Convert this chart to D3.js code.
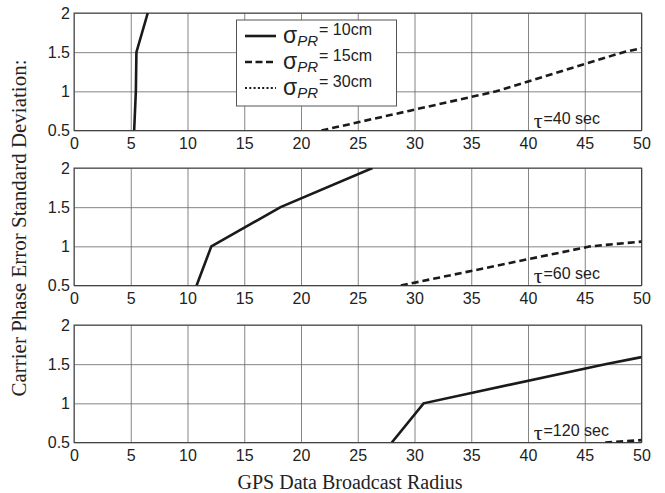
<!DOCTYPE html>
<html>
<head>
<meta charset="utf-8">
<title>Carrier phase error vs broadcast radius</title>
<script src="https://d3js.org/d3.v7.min.js"></script>
<style>
  body { margin: 0; background: #fff; }
  svg text { font-family: "Liberation Sans", Arial, sans-serif; }
  .serif { font-family: "Liberation Serif", "Times New Roman", serif; }
</style>
</head>
<body>
<div id="chart"></div>
<script>
// values
var xTicks = [0, 5, 10, 15, 20, 25, 30, 35, 40, 45, 50];
var yTicks = [0.5, 1, 1.5, 2];
var tauLabels = ["=40 sec", "=60 sec", "=120 sec"];
var legendLabels = ["= 10cm", "= 15cm", "= 30cm"];

// sigma_PR = 10cm (solid)
var sigma10 = [
  [[5.3, 0.5], [5.45, 1.0], [5.5, 1.5], [6.5, 2.0]],
  [[10.8, 0.5], [12.1, 1.0], [18.2, 1.5], [26.3, 2.0]],
  [[28.0, 0.5], [30.8, 1.0], [46.8, 1.5], [50, 1.59]]
];
// sigma_PR = 15cm (dashed)
var sigma15 = [
  [[21.8, 0.5], [29.5, 0.75], [37.2, 1.0], [48.4, 1.5], [50, 1.55]],
  [[28.8, 0.5], [45.5, 1.0], [50, 1.06]],
  [[46.8, 0.5], [50, 0.53]]
];
// sigma_PR = 30cm (dotted) - off scale in all panels
var sigma30 = [[], [], []];

var W = 665, H = 493;
var left = 74, right = 641.5;
var panelTops = [13, 168, 325];
var panelH = 117.5;

var svg = d3.select("#chart").append("svg")
  .attr("width", W)
  .attr("height", H);

var x = d3.scaleLinear().domain([0, 50]).range([left, right]);

var line = d3.line()
  .x(function(d) { return x(d[0]); });

var dashes = ["none", "7,4", "2,3"];

panelTops.forEach(function(top, i) {
  var y = d3.scaleLinear().domain([0.5, 2]).range([top + panelH, top]);
  line.y(function(d) { return y(d[1]); });

  var g = svg.append("g");

  // clip so lines stop at the frame
  svg.append("clipPath").attr("id", "clip" + i)
    .append("rect")
    .attr("x", left).attr("y", top)
    .attr("width", right - left).attr("height", panelH);

  // grid
  g.append("g")
    .attr("transform", "translate(0," + (top + panelH) + ")")
    .call(d3.axisBottom(x).tickValues(xTicks).tickSize(-panelH).tickFormat(""))
    .call(function(a) {
      a.select(".domain").remove();
      a.selectAll("line").attr("stroke", "#666").attr("stroke-width", 0.8);
    });
  g.append("g")
    .attr("transform", "translate(" + left + ",0)")
    .call(d3.axisLeft(y).tickValues(yTicks).tickSize(-(right - left)).tickFormat(""))
    .call(function(a) {
      a.select(".domain").remove();
      a.selectAll("line").attr("stroke", "#666").attr("stroke-width", 0.8);
    });

  // tick labels
  g.append("g")
    .attr("transform", "translate(0," + (top + panelH) + ")")
    .call(d3.axisBottom(x).tickValues(xTicks).tickSize(0).tickPadding(7))
    .call(function(a) {
      a.select(".domain").remove();
      a.selectAll("text").attr("font-size", 16).attr("fill", "#222")
        .attr("font-family", "Liberation Sans, Arial, sans-serif");
    });
  g.append("g")
    .attr("transform", "translate(" + left + ",0)")
    .call(d3.axisLeft(y).tickValues(yTicks).tickSize(0).tickPadding(4)
      .tickFormat(function(d) { return d; }))
    .call(function(a) {
      a.select(".domain").remove();
      a.selectAll("text").attr("font-size", 16).attr("fill", "#222")
        .attr("font-family", "Liberation Sans, Arial, sans-serif");
    });

  // frame
  g.append("rect")
    .attr("x", left).attr("y", top)
    .attr("width", right - left).attr("height", panelH)
    .attr("fill", "none").attr("stroke", "#444").attr("stroke-width", 1);

  // curves
  [sigma10[i], sigma15[i], sigma30[i]].forEach(function(s, k) {
    if (!s.length) return;
    g.append("path")
      .attr("d", line(s))
      .attr("clip-path", "url(#clip" + i + ")")
      .attr("fill", "none")
      .attr("stroke", "#1a1a1a")
      .attr("stroke-width", 2.6)
      .attr("stroke-dasharray", dashes[k]);
  });

  // tau label
  var tl = g.append("text")
    .attr("x", x(40.5))
    .attr("y", top + panelH - 7)
    .attr("font-size", 16)
    .attr("fill", "#222");
  tl.append("tspan")
    .attr("class", "serif")
    .attr("font-size", 22)
    .attr("dy", 4)
    .text("τ");
  tl.append("tspan")
    .attr("dy", -4)
    .attr("dx", 1)
    .text(tauLabels[i]);
});

// legend
var lg = svg.append("g");
lg.append("rect")
  .attr("x", 236.5).attr("y", 20)
  .attr("width", 160).attr("height", 86)
  .attr("fill", "#fff").attr("stroke", "#555").attr("stroke-width", 1);

legendLabels.forEach(function(lbl, k) {
  var ly = 36 + k * 26;
  lg.append("line")
    .attr("x1", 245).attr("x2", 276)
    .attr("y1", ly).attr("y2", ly)
    .attr("stroke", "#1a1a1a")
    .attr("stroke-width", k === 2 ? 2.2 : 2.6)
    .attr("stroke-dasharray", k === 0 ? "none" : (k === 1 ? "7,3.5" : "2,2.3"));
  var t = lg.append("text")
    .attr("x", 283).attr("y", ly + 7)
    .attr("font-size", 23)
    .attr("fill", "#222");
  t.append("tspan").text("σ");
  t.append("tspan").attr("font-size", 15).attr("font-style", "italic").attr("dy", 3).text("PR");
  t.append("tspan").attr("font-size", 16).attr("dy", -11).attr("dx", 1).text(lbl);
});

// axis titles
svg.append("text")
  .attr("class", "serif")
  .attr("x", 350).attr("y", 489)
  .attr("text-anchor", "middle")
  .attr("font-size", 20)
  .attr("fill", "#222")
  .text("GPS Data Broadcast Radius");

svg.append("text")
  .attr("class", "serif")
  .attr("transform", "translate(26,228) rotate(-90)")
  .attr("text-anchor", "middle")
  .attr("font-size", 21)
  .attr("fill", "#222")
  .text("Carrier Phase Error Standard Deviation:");
</script>
</body>
</html>
